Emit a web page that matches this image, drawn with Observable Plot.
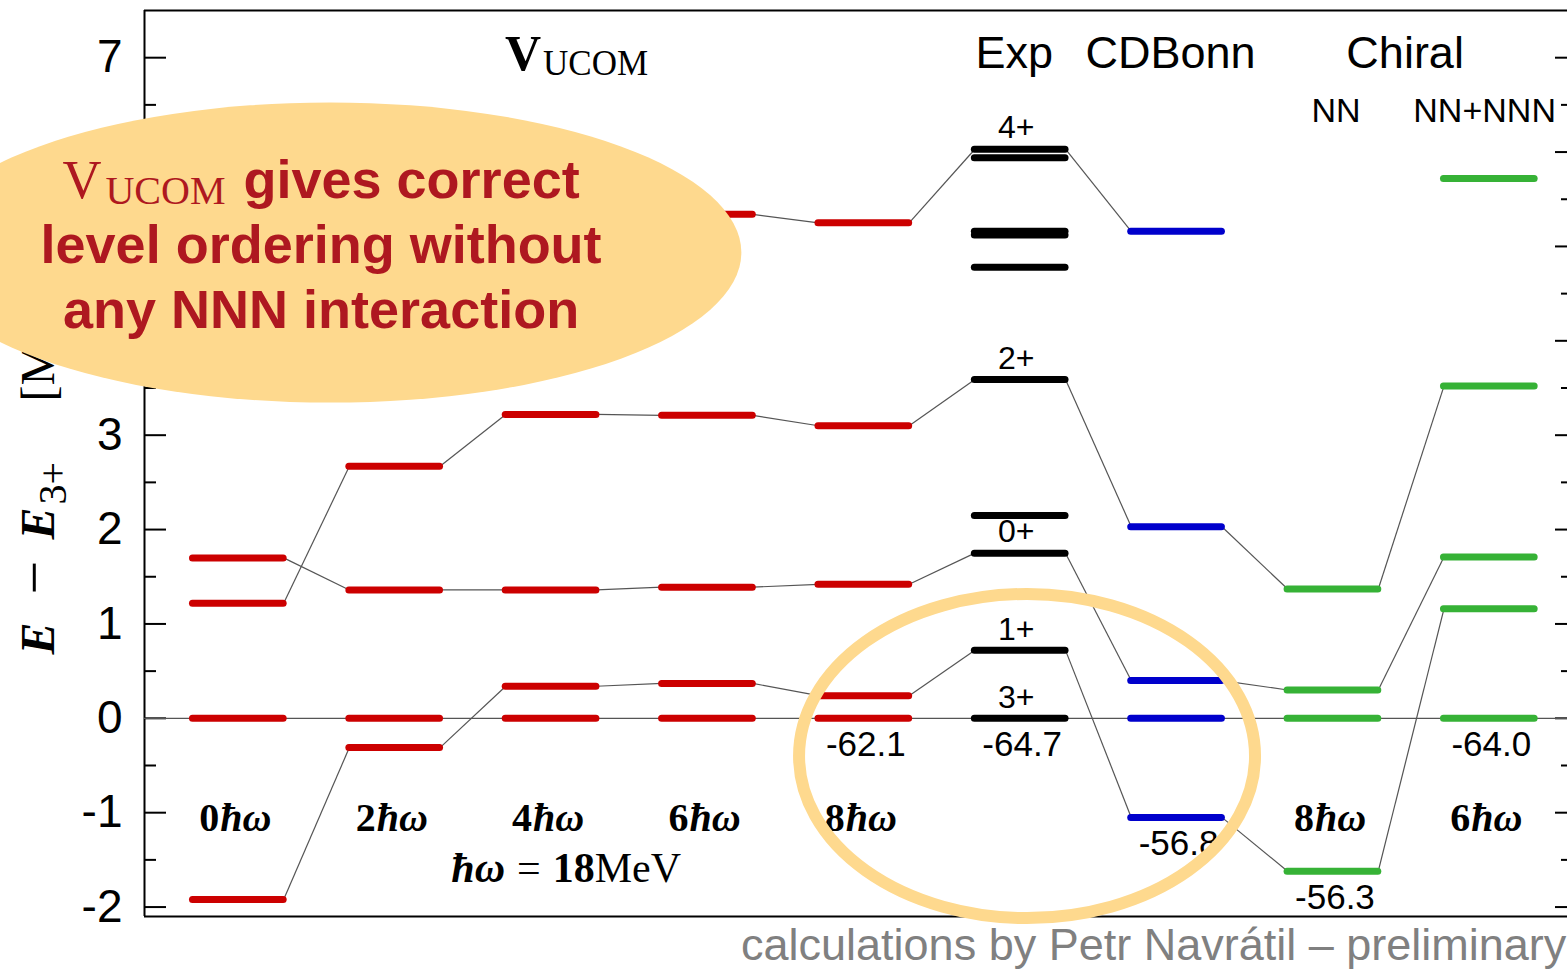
<!DOCTYPE html>
<html>
<head>
<meta charset="utf-8">
<script src="https://cdn.jsdelivr.net/npm/d3@7"></script>
<script src="https://cdn.jsdelivr.net/npm/@observablehq/plot@0.6"></script>
<style>
html, body { margin: 0; padding: 0; background: #fff; overflow: hidden; width: 1567px; height: 969px; }
svg { display: block; }
#caption { font-family: "Liberation Sans", Arial, sans-serif; font-size: 45px; color: #808080;
  white-space: nowrap; margin-left: 741px; line-height: 49px; height: 49px; }
</style>
</head>
<body>
<div id="chart"></div>
<div id="caption">calculations by Petr Navrátil – preliminary</div>
<script>
// ---------------- data ----------------
const columns = ["0ħω", "2ħω", "4ħω", "6ħω", "8ħω", "Exp", "CDBonn", "Chiral NN 8ħω", "Chiral NN+NNN 6ħω"];
const columnGroup = ["VUCOM", "VUCOM", "VUCOM", "VUCOM", "VUCOM", "Exp", "CDBonn", "Chiral", "Chiral"];
const groups = ["VUCOM", "Exp", "CDBonn", "Chiral"];
const groupColors = ["#cc0000", "#000000", "#0000cc", "#36b236"];

// excitation energies E - E(3+) [MeV], one value per column (null = not shown)
const level3p = [0, 0, 0, 0, 0, 0, 0, 0, 0];
const level1p = [-1.92, -0.31, 0.34, 0.37, 0.24, 0.72, -1.05, -1.62, 1.16];
const level0p = [1.70, 1.36, 1.36, 1.39, 1.42, 1.75, 0.40, 0.30, 1.71];
const level2p = [1.22, 2.67, 3.22, 3.21, 3.10, 3.59, 2.03, 1.37, 3.52];
const level4p = [null, null, null, 5.34, 5.25, 6.03, 5.16, null, 5.72];
const expOtherLevels = [5.94, 5.16, 5.12, 4.78, 2.15];

const stateNames = ["3+", "1+", "0+", "2+", "4+"];
const stateLevels = [level3p, level1p, level0p, level2p, level4p];
const expLabels = ["4+", "2+", "0+", "1+", "3+"];

const groundEnergies = [null, null, null, null, -62.1, -64.7, -56.8, -56.3, -64.0];
const hwNumbers = ["0", "2", "4", "6", "8", null, null, "8", "6"];

const yMajorTicks = [-2, -1, 0, 1, 2, 3, 4, 5, 6, 7];
const yMinorTicks = [-1.5, -0.5, 0.5, 1.5, 2.5, 3.5, 4.5, 5.5, 6.5];
// tick labels that are not covered by the call-out (4, 5, 6 sit under it)
const yTickLabels = [-2, -1, 0, 1, 2, 3, 7];

const headerTexts = ["Exp", "CDBonn", "Chiral"];
const headerCols = [5, 6, 7.5];
const subHeaderTexts = ["NN", "NN+NNN"];
const subHeaderCols = [7.02, 7.97];

// ---------------- derived tables ----------------
const HW = 0.29; // half width of a level bar, in column units
const levelRows = [];
stateLevels.forEach((vals, s) => vals.forEach((v, i) => {
  if (v != null) levelRows.push({col: i, y: v, group: columnGroup[i], state: stateNames[s]});
}));
expOtherLevels.forEach(v => levelRows.push({col: 5, y: v, group: "Exp", state: ""}));

const linkRows = [];
[level1p, level0p, level2p, level4p].forEach(vals => {
  for (let i = 0; i < vals.length - 1; i++) {
    if (vals[i] == null || vals[i + 1] == null) continue;
    linkRows.push({x1: i + HW, y1: vals[i], x2: i + 1 - HW, y2: vals[i + 1]});
  }
});

const expLabelRows = expLabels.map(l => ({label: l, y: stateLevels[stateNames.indexOf(l)][5]}));

const groundRows = [];
groundEnergies.forEach((e, i) => {
  if (e == null) return;
  const lo = d3.min(levelRows.filter(r => r.col === i), r => r.y);
  groundRows.push({col: i, y: lo, text: e.toFixed(1)});
});

const hwRows = [];
hwNumbers.forEach((n, i) => { if (n != null) hwRows.push({col: i, n}); });

// ---------------- layout ----------------
const W = 1567, H = 920;
const mL = 144, mR = 0, mT = 10, mB = 4;
const xDomain = [-0.6, 8.5], yDomain = [-2.1, 7.5];
const frameW = W - mL - mR;
const SERIF = "Liberation Serif, Times New Roman, serif";
const SANS = "Liberation Sans, Arial, sans-serif";

function getScales(scales) {
  const sx = scales && typeof scales.x === "function" ? scales.x : d3.scaleLinear(xDomain, [mL, W - mR]);
  const sy = scales && typeof scales.y === "function" ? scales.y : d3.scaleLinear(yDomain, [H - mB, mT]);
  return [sx, sy];
}

// y axis label  E − E_{3+}  [MeV]  (rotated, pieces placed along the axis)
const yLabelPieces = [
  {text: "E", at: 0, size: 48, italic: true, sub: false},
  {text: "−", at: 60, size: 60, italic: false, sub: false},
  {text: "E", at: 115, size: 48, italic: true, sub: false},
  {text: "3+", at: 150, size: 40, italic: false, sub: true},
  {text: "[MeV]", at: 253, size: 48, italic: false, sub: false}
];
function yLabelMark(index, scales) {
  const [sx, sy] = getScales(scales);
  const g = d3.create("svg:g");
  const y0 = sy(0.67);
  yLabelPieces.forEach(p => {
    g.append("text")
      .attr("transform", `translate(${p.sub ? 66 : 54},${y0 - p.at}) rotate(-90)`)
      .attr("text-anchor", "start")
      .attr("font-family", SERIF).attr("font-size", p.size).attr("fill", "#000")
      .attr("font-weight", p.italic ? "bold" : null)
      .attr("font-style", p.italic ? "italic" : null)
      .text(p.text);
  });
  return g.node();
}

// "ħω = 18MeV"
function hwNoteMark(index, scales) {
  const [sx, sy] = getScales(scales);
  const g = d3.create("svg:g");
  const t = g.append("text").attr("x", sx(2.1)).attr("y", sy(-1.74))
    .attr("text-anchor", "middle").attr("font-family", SERIF).attr("font-size", 42).attr("fill", "#000");
  t.append("tspan").attr("font-weight", "bold").attr("font-style", "italic").text("ħω");
  t.append("tspan").attr("dx", 12).text("=");
  t.append("tspan").attr("dx", 12).attr("font-weight", "bold").text("18");
  t.append("tspan").text("MeV");
  return g.node();
}

// call-out annotations (drawn on top)
const bigCallout = {x: 0.59, y: 4.93, rx: 2.63, ry: 1.59};
const ringCallout = {x: 5.047, y: -0.405, rx: 1.458, ry: 1.717};
const calloutLines = ["level ordering without", "any NNN interaction"];
function calloutMark(index, scales) {
  const [sx, sy] = getScales(scales);
  const g = d3.create("svg:g");
  const cx = sx(bigCallout.x), cy = sy(bigCallout.y);
  g.append("ellipse").attr("cx", cx).attr("cy", cy)
    .attr("rx", sx(bigCallout.x + bigCallout.rx) - cx)
    .attr("ry", sy(bigCallout.y - bigCallout.ry) - cy)
    .attr("fill", "#fed98e");
  const red = "#ae1820";
  const t1 = g.append("text").attr("x", cx - 9).attr("y", cy - 55)
    .attr("text-anchor", "middle").attr("fill", red);
  t1.append("tspan").attr("font-family", SERIF).attr("font-size", 54).text("V");
  t1.append("tspan").attr("font-family", SERIF).attr("font-size", 40).attr("dx", 4).attr("dy", 6).text("UCOM");
  t1.append("tspan").attr("font-family", SANS).attr("font-weight", "bold").attr("font-size", 54)
    .attr("dx", 18).attr("dy", -6).text("gives correct");
  calloutLines.forEach((line, k) => {
    g.append("text").attr("x", cx - 9).attr("y", cy + 10.5 + 65 * k)
      .attr("text-anchor", "middle").attr("fill", red)
      .attr("font-family", SANS).attr("font-weight", "bold").attr("font-size", 54).text(line);
  });
  const rcx = sx(ringCallout.x), rcy = sy(ringCallout.y);
  g.append("ellipse").attr("cx", rcx).attr("cy", rcy)
    .attr("rx", sx(ringCallout.x + ringCallout.rx) - rcx)
    .attr("ry", sy(ringCallout.y - ringCallout.ry) - rcy)
    .attr("fill", "none").attr("stroke", "#fed98e").attr("stroke-width", 12);
  return g.node();
}

const plot = Plot.plot({
  width: W, height: H,
  marginLeft: mL, marginRight: mR, marginTop: mT, marginBottom: mB,
  x: {domain: xDomain, axis: null},
  y: {domain: yDomain, axis: null},
  color: {domain: groups, range: groupColors},
  style: {fontFamily: SANS, background: "#fff", color: "#000", overflow: "visible"},
  marks: [
    // frame (left, top, bottom)
    Plot.ruleX([xDomain[0]], {stroke: "#000", strokeWidth: 2}),
    Plot.ruleY(yDomain, {stroke: "#000", strokeWidth: 2}),
    // ticks, left (inward) and right (mirror)
    Plot.tickY(yMajorTicks, {y: d => d, insetRight: frameW - 22, stroke: "#000", strokeWidth: 2}),
    Plot.tickY(yMinorTicks, {y: d => d, insetRight: frameW - 12, stroke: "#000", strokeWidth: 2}),
    Plot.tickY(yMajorTicks, {y: d => d, insetLeft: frameW - 12, stroke: "#000", strokeWidth: 2}),
    Plot.tickY(yMinorTicks, {y: d => d, insetLeft: frameW - 6, stroke: "#000", strokeWidth: 2}),
    Plot.text(yTickLabels, {x: xDomain[0], y: d => d, text: d => String(d), textAnchor: "end", dx: -22,
      fontSize: 46, fill: "#000"}),
    // zero reference line and connectors
    Plot.ruleY([0], {stroke: "#555", strokeWidth: 1.2}),
    Plot.link(linkRows, {x1: "x1", y1: "y1", x2: "x2", y2: "y2", stroke: "#555", strokeWidth: 1.2}),
    // levels
    Plot.ruleY(levelRows, {y: "y", x1: d => d.col - HW, x2: d => d.col + HW, stroke: "group",
      strokeWidth: 7, strokeLinecap: "round"}),
    // Exp level labels
    Plot.text(expLabelRows, {x: 5, y: "y", text: "label", dy: -21, dx: -4, fontSize: 32, fill: "#000"}),
    // ground-state energies
    Plot.text(groundRows, {x: "col", y: "y", text: "text", dy: 38, dx: 2, lineAnchor: "bottom",
      fontSize: 35, fill: "#000"}),
    // model-space labels
    Plot.text(hwRows, {x: "col", y: -1.19, text: "n", textAnchor: "end", dx: -19, lineAnchor: "bottom",
      fontFamily: SERIF, fontWeight: "bold", fontSize: 40, fill: "#000"}),
    Plot.text(hwRows, {x: "col", y: -1.19, text: () => "ħω", textAnchor: "start", dx: -18, lineAnchor: "bottom",
      fontFamily: SERIF, fontWeight: "bold", fontStyle: "italic", fontSize: 40, fill: "#000"}),
    hwNoteMark,
    // column headers
    Plot.text(["V"], {x: 2, y: 6.87, text: d => d, textAnchor: "end", dx: -10, lineAnchor: "bottom",
      fontFamily: SERIF, fontWeight: "bold", fontSize: 50, fill: "#000"}),
    Plot.text(["UCOM"], {x: 2, y: 6.87, text: d => d, textAnchor: "start", dx: -8, dy: 5, lineAnchor: "bottom",
      fontFamily: SERIF, fontSize: 35, fill: "#000"}),
    Plot.text(headerTexts, {x: (d, i) => headerCols[i], y: 6.89, text: d => d, dx: -6, lineAnchor: "bottom",
      fontSize: 45, fill: "#000"}),
    Plot.text(subHeaderTexts, {x: (d, i) => subHeaderCols[i], y: 6.32, text: d => d, lineAnchor: "bottom",
      fontSize: 34, fill: "#000"}),
    yLabelMark,
    calloutMark
  ]
});
document.getElementById("chart").appendChild(plot);
</script>
</body>
</html>
